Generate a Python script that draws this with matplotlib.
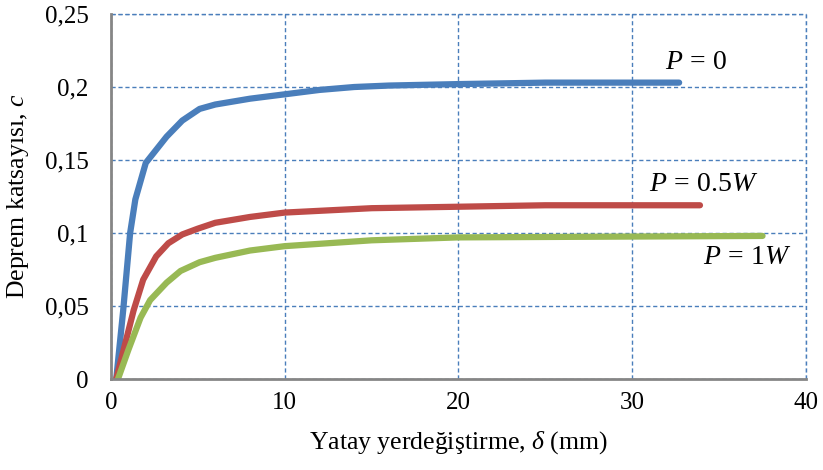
import matplotlib
matplotlib.use("Agg")
import matplotlib.pyplot as plt

plt.rcParams["font.family"] = ["Liberation Serif", "DejaVu Serif"]
plt.rcParams["mathtext.fontset"] = "custom"
plt.rcParams["mathtext.rm"] = "Liberation Serif"
plt.rcParams["mathtext.it"] = "Liberation Serif:italic"

# horizontal displacement (mm) vs. seismic coefficient for three axial loads
x_p0 = [0.3, 0.7, 1.1, 1.4, 2.0, 3.2, 4.1, 5.1, 6.0, 8.0, 10.0, 12.0, 14.0, 16.0, 20.0, 25.0, 32.7]
c_p0 = [0.0, 0.047, 0.1, 0.123, 0.148, 0.166, 0.177, 0.185, 0.188, 0.192, 0.195, 0.198, 0.2, 0.201, 0.202, 0.203, 0.203]

x_p05 = [0.3, 1.3, 1.85, 2.6, 3.3, 4.1, 5.0, 6.0, 8.0, 10.0, 15.0, 20.0, 25.0, 33.9]
c_p05 = [0.0, 0.047, 0.068, 0.084, 0.093, 0.099, 0.103, 0.107, 0.111, 0.114, 0.117, 0.118, 0.119, 0.119]

x_p1 = [0.4, 1.0, 1.7, 2.25, 3.2, 4.0, 5.1, 6.0, 8.0, 10.0, 15.0, 20.0, 37.5]
c_p1 = [0.0, 0.02, 0.042, 0.054, 0.066, 0.074, 0.08, 0.083, 0.088, 0.091, 0.095, 0.097, 0.098]

y_ticks = [0, 0.05, 0.1, 0.15, 0.2, 0.25]
y_labels = ["0", "0,05", "0,1", "0,15", "0,2", "0,25"]
x_ticks = [0, 10, 20, 30, 40]

fig = plt.figure(figsize=(8.23, 4.70), dpi=100)
ax = fig.add_axes([0.1349, 0.1936, 0.8444, 0.7766])

line_kw = dict(lw=4.5, solid_capstyle="round", solid_joinstyle="round", zorder=3)
ax.plot(x_p0, c_p0, color="#4A7EBB", **line_kw)
ax.plot(x_p05, c_p05, color="#BE4B48", **line_kw)
ax.plot(x_p1, c_p1, color="#98B954", **line_kw)

ax.set_xlim(0, 40)
ax.set_ylim(0, 0.25)
ax.set_xticks(x_ticks)
ax.set_yticks(y_ticks)
ax.set_yticklabels(y_labels)
ax.tick_params(length=0, labelsize=18)
ax.tick_params(axis="y", pad=16)
ax.tick_params(axis="x", pad=9)

grid_kw = dict(color="#4A7EBB", ls=(0, (3, 2)), lw=1)
ax.grid(True, **grid_kw)
ax.set_axisbelow(True)
for side in ("top", "right"):
    ax.spines[side].set_visible(False)
for side in ("left", "bottom"):
    ax.spines[side].set_color("#868686")
    ax.spines[side].set_linewidth(2)
    ax.spines[side].set_zorder(4)

# top and right borders are drawn as grid lines
ax.axhline(0.25, clip_on=False, **grid_kw)
ax.axvline(40, clip_on=False, **grid_kw)

ax.set_xlabel(r"Yatay yerdeğiştirme, $\mathit{\delta}$ (mm)", fontsize=18.5, labelpad=11)
ax.set_ylabel(r"Deprem katsayısı, $\mathit{c}$", fontsize=18.5, labelpad=10)

ax.text(33.7, 0.217, r"$P\,=\,0$", fontsize=20, ha="center", va="center")
ax.text(34.1, 0.133, r"$P\,=\,0.5W$", fontsize=20, ha="center", va="center")
ax.text(36.6, 0.083, r"$P\,=\,1W$", fontsize=20, ha="center", va="center")

fig.savefig("out.png", dpi=100)
